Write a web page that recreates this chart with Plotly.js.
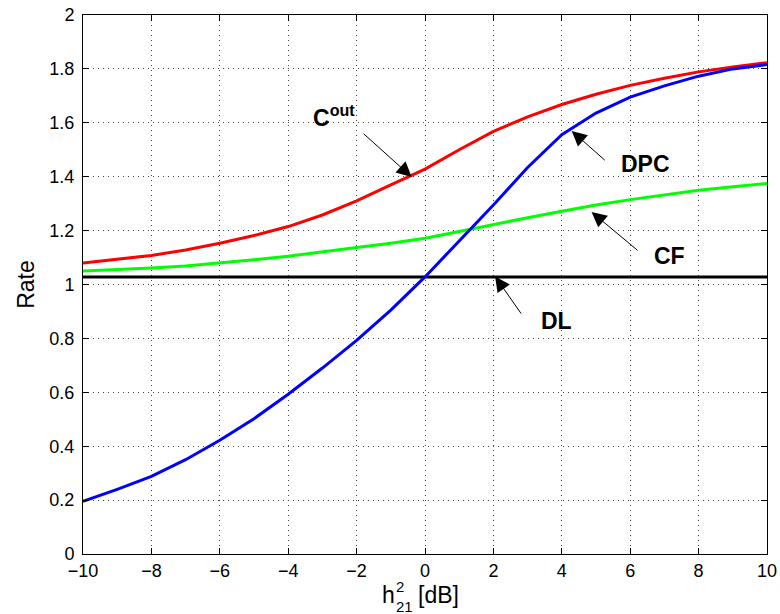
<!DOCTYPE html>
<html><head><meta charset="utf-8">
<script src="https://cdn.plot.ly/plotly-3.0.1.min.js"></script>
<style>body{margin:0;background:#fff}#chart{width:780px;height:614px}</style>
</head><body><div id="chart"></div>
<script>
const xdB = [-10,-9,-8,-7,-6,-5,-4,-3,-2,-1,0,1,2,3,4,5,6,7,8,9,10];
const Cout = [1.080,1.093,1.108,1.128,1.153,1.182,1.215,1.258,1.310,1.370,1.428,1.500,1.568,1.622,1.668,1.706,1.739,1.765,1.789,1.807,1.823];
const DPC  = [0.195,0.240,0.288,0.350,0.422,0.502,0.593,0.690,0.793,0.905,1.028,1.160,1.295,1.434,1.556,1.636,1.695,1.737,1.773,1.800,1.816];
const CF   = [1.050,1.055,1.061,1.069,1.080,1.092,1.105,1.120,1.137,1.153,1.172,1.197,1.223,1.248,1.272,1.295,1.315,1.332,1.350,1.363,1.375];
const DLval = 1.028;
const DL = xdB.map(() => DLval);

const font = 'Liberation Sans, Arial, Helvetica, sans-serif';
const traces = [
  {x: xdB, y: DL, mode: 'lines', line: {color: '#000000', width: 3}, name: 'DL'},
  {x: xdB, y: CF, mode: 'lines', line: {color: '#00ff00', width: 3}, name: 'CF'},
  {x: xdB, y: Cout, mode: 'lines', line: {color: '#ff0000', width: 3}, name: 'Cout'},
  {x: xdB, y: DPC, mode: 'lines', line: {color: '#0000ff', width: 3}, name: 'DPC'}
];

const labelFont = {family: font, size: 23, color: '#000'};
function arrow(x, y, ax, ay) {
  return {x: x, y: y, xref: 'x', yref: 'y', text: ' ', showarrow: true, ax: ax, ay: ay,
          arrowhead: 2, arrowsize: 3, arrowwidth: 1, arrowcolor: '#000', standoff: 0, startstandoff: 0,
          font: {size: 2}};
}
function label(x, y, t) {
  return {x: x, y: y, xref: 'x', yref: 'y', text: t, showarrow: false, font: labelFont};
}
const titleFont = {family: font, size: 23, color: '#000'};
const scriptFont = {family: font, size: 15, color: '#000'};
const annotations = [
  label(-2.66, 1.624, '<b>C<sup>out</sup></b>'),
  label(6.46, 1.446, '<b>DPC</b>'),
  label(7.16, 1.104, '<b>CF</b>'),
  label(3.85, 0.863, '<b>DL</b>'),
  arrow(-0.39, 1.399, -50, -45),
  arrow(4.29, 1.570, 35, 31),
  arrow(4.87, 1.269, 48, 40),
  arrow(2.05, 1.030, 28, 40),
  // x-axis title: h with stacked superscript 2 and subscript 21, then [dB]
  {xref: 'paper', yref: 'paper', x: 0.4466, y: -0.0761, xanchor: 'center', yanchor: 'middle', text: 'h', showarrow: false, font: titleFont, borderpad: 0},
  {xref: 'paper', yref: 'paper', x: 0.4561, y: -0.0594, xanchor: 'left', yanchor: 'middle', text: '2', showarrow: false, font: scriptFont, borderpad: 0},
  {xref: 'paper', yref: 'paper', x: 0.4561, y: -0.0983, xanchor: 'left', yanchor: 'middle', text: '21', showarrow: false, font: scriptFont, borderpad: 0},
  {xref: 'paper', yref: 'paper', x: 0.4883, y: -0.0761, xanchor: 'left', yanchor: 'middle', text: '[dB]', showarrow: false, font: titleFont, borderpad: 0}
];

const axisCommon = {
  showline: true, linecolor: '#000', linewidth: 1, mirror: 'allticks',
  ticks: 'inside', ticklen: 6, tickcolor: '#000',
  showgrid: true, gridcolor: '#444', gridwidth: 1, griddash: '1px,4px',
  zeroline: false, tickfont: {family: font, size: 18, color: '#000'}
};
const layout = {
  width: 780, height: 614,
  margin: {l: 83, r: 13, t: 15, b: 60},
  paper_bgcolor: '#fff', plot_bgcolor: '#fff',
  showlegend: false,
  xaxis: Object.assign({}, axisCommon, {range: [-10, 10], dtick: 2, tick0: -10, ticklabelstandoff: 0}),
  yaxis: Object.assign({}, axisCommon, {range: [0, 2], dtick: 0.2, tick0: 0, ticklabelstandoff: 4,
    title: {text: 'Rate', font: {family: font, size: 23, color: '#000'}, standoff: 8}}),
  annotations: annotations
};
Plotly.newPlot('chart', traces, layout, {displayModeBar: false, staticPlot: true});
</script>
</body></html>
